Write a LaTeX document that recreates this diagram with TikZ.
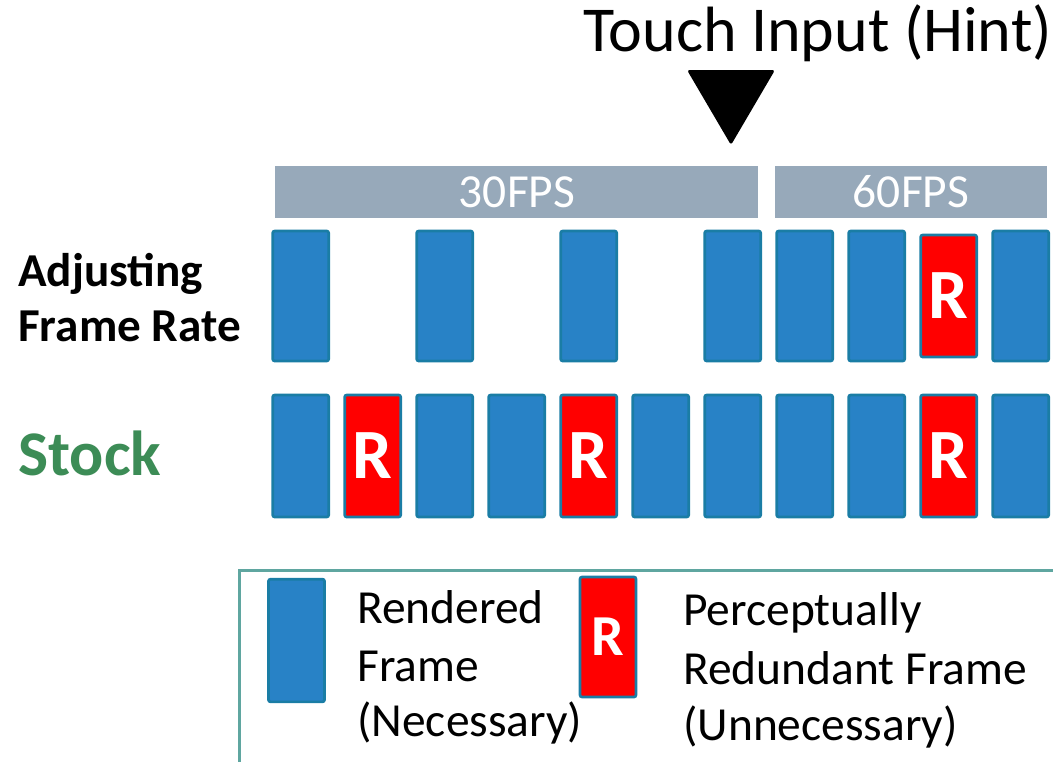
\documentclass[tikz,border=0pt]{standalone}
\usepackage{fontspec}
\setmainfont{Carlito}
\definecolor{framefill}{HTML}{2882C6}
\definecolor{frameedge}{HTML}{1A7DA5}
\definecolor{barfill}{HTML}{97A9BA}
\definecolor{stockgreen}{HTML}{3C8C56}
\definecolor{legendedge}{HTML}{5FA6A0}
\definecolor{redundant}{HTML}{FF0000}
\tikzset{
  frame/.style={draw=frameedge, line width=2pt, fill=framefill, rounded corners=1.5pt,
    inner sep=0pt, minimum width=42pt},
  tallframe/.style={frame, minimum height=97.5pt},
  shortframe/.style={frame, minimum height=91.5pt},
  redframe/.style={frame, fill=redundant, text=white, minimum height=91.5pt,
    font=\fontsize{53}{53}\selectfont\bfseries},
  ratebar/.style={fill=barfill, inner sep=0pt, text=white, minimum height=39pt,
    font=\fontsize{35.6}{36}\selectfont},
  rowlabel/.style={anchor=base west, inner sep=0pt, font=\fontsize{35.4}{40}\selectfont\bfseries},
  legendtext/.style={anchor=base west, inner sep=0pt, font=\fontsize{35.6}{40}\selectfont},
}
\begin{document}
\begin{tikzpicture}[x=0.75pt, y=-0.75pt]
  \useasboundingbox (0,0) rectangle (1053,761);
  \clip (0,0) rectangle (1053,761);

  % title and touch marker
  \node[anchor=base west, inner sep=0pt, font=\fontsize{48}{50}\selectfont] (title) at (583,51) {Touch Input (Hint)};
  \fill[rounded corners=2pt] (687,70) -- (775,70) -- (731,145) -- cycle;

  % frame-rate bars
  \node[ratebar, minimum width=362pt] (bar30) at (516.8,192) {};
  \node[text=white, font=\fontsize{35.6}{36}\selectfont, inner sep=0pt] (t30) at (517,192) {30FPS};
  \node[ratebar, minimum width=204pt] (bar60) at (911,192) {60FPS};

  % row labels
  \node[rowlabel] (adj1) at (18,286.7) {Adjusting};
  \node[rowlabel] (adj2) at (18,341.7) {Frame Rate};
  \node[rowlabel, font=\fontsize{47.7}{50}\selectfont\bfseries, text=stockgreen] (stock) at (18,475) {Stock};

  % adjusting frame rate row
  \foreach \i in {0,2,4,6,7,8,10}
    \node[tallframe] (a\i) at ({300.7+72*\i},296) {};
  \node[redframe] (a9) at ({300.7+72*9},296) {R};

  % stock row
  \foreach \i in {0,2,3,5,6,7,8,10}
    \node[shortframe] (s\i) at ({300.7+72*\i},456) {};
  \foreach \i in {1,4,9}
    \node[redframe] (s\i) at ({300.7+72*\i},456) {R};

  % legend
  \draw[legendedge, line width=2.25pt] (239,570) rectangle (1080,790);
  \node[frame, minimum height=92pt] (legblue) at (296.5,640.5) {};
  \node[redframe, minimum height=90pt, font=\fontsize{43.5}{44}\selectfont\bfseries] (legred) at (608,637) {R};
  \node[legendtext] (l1) at (357,623) {Rendered};
  \node[legendtext] (l2) at (357,681.7) {Frame};
  \node[legendtext] (l3) at (357,736.7) {(Necessary)};
  \node[legendtext] (r1) at (683,625) {Perceptually};
  \node[legendtext] (r2) at (683,684) {Redundant Frame};
  \node[legendtext] (r3) at (683,740) {(Unnecessary)};
\end{tikzpicture}
\end{document}
